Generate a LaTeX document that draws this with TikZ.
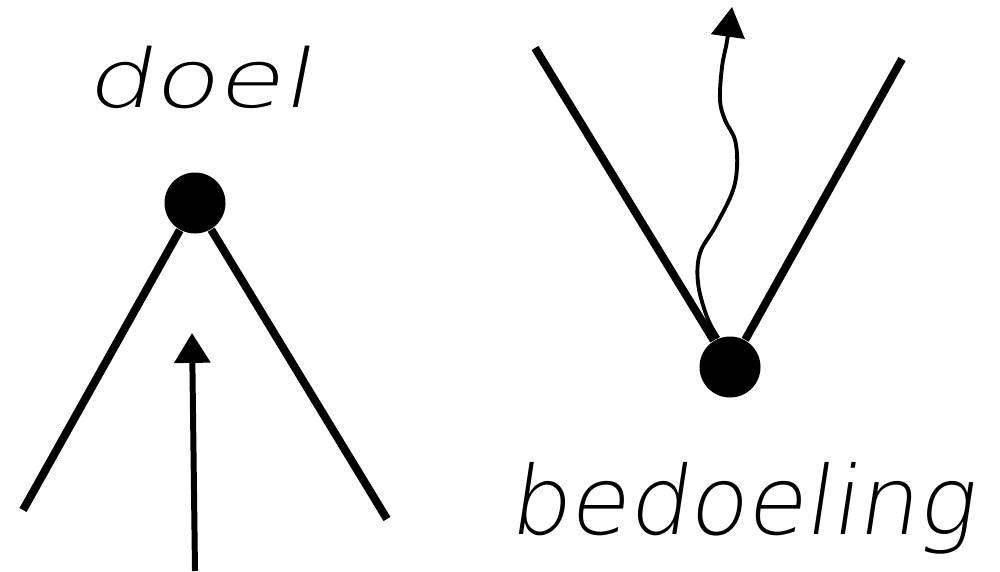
\documentclass[tikz,border=0pt]{standalone}
\usepackage{fontspec}
\newfontfamily\handfont[FakeSlant=0.15]{DejaVu Sans ExtraLight}
\usetikzlibrary{arrows.meta}

\begin{document}
\begin{tikzpicture}[
  dot/.style={circle, fill=black, inner sep=0pt, minimum size=0.61cm},
  leg/.style={line width=2.3pt},
  arr/.style={-{Triangle[length=8.5pt, width=10pt]}, line width=1.7pt},
  wavy/.style={-{Triangle[length=8.5pt, width=9.5pt]}, line width=1.1pt},
  word/.style={font=\handfont, anchor=base, inner sep=0pt}
]
\useasboundingbox (0,0) rectangle (10,5.71);

%% ===== left: doel =====
\node[word, font=\handfont\fontsize{23}{23}\selectfont, xscale=1.3, transform shape]
  (doel) at (1.98, 4.64) {doel};
\node[dot] (goal) at (1.95, 3.68) {};
\coordinate (goalL) at (0.23, 0.61);
\coordinate (goalR) at (3.87, 0.52);
\draw[leg] (goal) -- (goalL);
\draw[leg] (goal) -- (goalR);

%% straight arrow towards the goal
\coordinate (goalFrom) at (1.95, 0);
\coordinate (goalTo) at (1.92, 2.38);
\draw[arr] (goalFrom) -- (goalTo);

%% ===== right: bedoeling =====
\node[dot] (intent) at (7.30, 2.04) {};
\coordinate (intentL) at (5.35, 5.23);
\coordinate (intentR) at (9.02, 5.12);
\draw[leg] (intent) -- (intentL);
\draw[leg] (intent) -- (intentR);
\node[word, font=\handfont\fontsize{27}{27}\selectfont]
  (bedoeling) at (7.41, 0.37) {bedoeling};

%% wavering arrow out of the intention
\draw[wavy] plot[smooth, tension=0.6] coordinates {
  (intent.112) (7.07,2.54) (6.98,2.88) (7.00,3.18) (7.15,3.44) (7.32,3.78)
  (7.37,4.04) (7.35,4.31) (7.25,4.51) (7.20,4.71) (7.22,5.04) (7.27,5.30)
  (7.32,5.64)};

\end{tikzpicture}
\end{document}
